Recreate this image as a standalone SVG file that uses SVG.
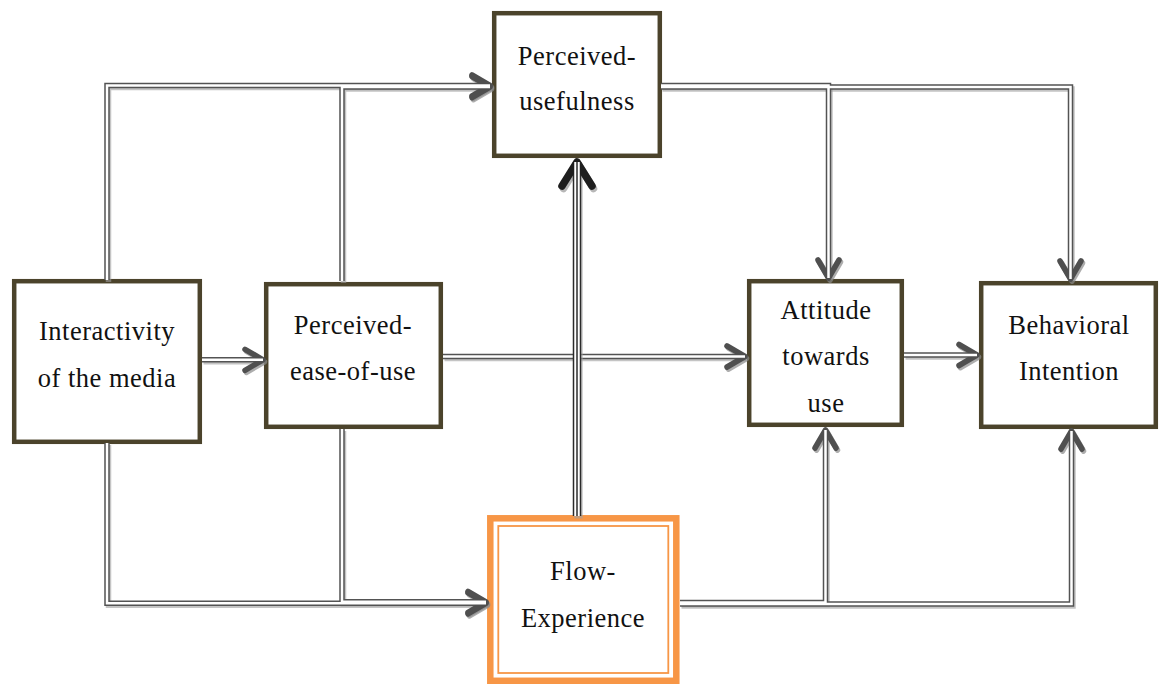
<svg xmlns="http://www.w3.org/2000/svg" xmlns:xlink="http://www.w3.org/1999/xlink" width="1159" height="684" viewBox="0 0 1159 684">
  <style>
    .box{fill:#fff;stroke:#4b432b;stroke-width:4.5}
    .flow-outer{fill:#fff;stroke:#f79646;stroke-width:6.5}
    .flow-inner{fill:none;stroke:#f79646;stroke-width:1.8}
    text{font-family:"Liberation Serif","Times New Roman",serif;font-size:26.5px;letter-spacing:0.5px;fill:#111;text-anchor:middle}
    .route{fill:none;stroke-linejoin:miter}
    .shade{stroke:#9c9c9c;stroke-opacity:.6;stroke-width:5.5;marker-end:url(#chev-shade)}
    .rail{stroke:#535353;stroke-width:5.5;marker-end:url(#chev)}
    .gap{stroke:#fff;stroke-width:2.5;marker-end:none}
    .main-shade{stroke:#a0a0a0;stroke-opacity:.6;stroke-width:8.5;marker-end:url(#chev-dark-shade)}
    .main-rail{stroke:#2b2b2b;stroke-width:8.5;marker-end:url(#chev-dark)}
    .main-gap{stroke:#fff;stroke-width:5.5;marker-end:none}
    .main-core{stroke:#2b2b2b;stroke-width:1.5;marker-end:none}
  </style>
  <defs>
    <!-- open chevron heads -->
    <marker id="chev" markerUnits="userSpaceOnUse" orient="auto" overflow="visible" markerWidth="40" markerHeight="40" refX="0" refY="0">
      <path d="M-18,-10.5 L0,0 L-18,10.5" fill="none" stroke="#4f4f4f" stroke-width="5.5" stroke-linecap="round" stroke-linejoin="round"/>
    </marker>
    <marker id="chev-shade" markerUnits="userSpaceOnUse" orient="auto" overflow="visible" markerWidth="40" markerHeight="40" refX="0" refY="0">
      <path d="M-18,-10.5 L0,0 L-18,10.5" fill="none" stroke="#8a8a8a" stroke-opacity=".7" stroke-width="5.5" stroke-linecap="round" stroke-linejoin="round"/>
    </marker>
    <marker id="chev-dark" markerUnits="userSpaceOnUse" orient="auto" overflow="visible" markerWidth="60" markerHeight="60" refX="0" refY="0">
      <path d="M-24,-15 L0,0 L-24,15" fill="none" stroke="#1e1e1e" stroke-width="7.5" stroke-linecap="round" stroke-linejoin="round"/>
    </marker>
    <marker id="chev-dark-shade" markerUnits="userSpaceOnUse" orient="auto" overflow="visible" markerWidth="60" markerHeight="60" refX="0" refY="0">
      <path d="M-24,-15 L0,0 L-24,15" fill="none" stroke="#999" stroke-opacity=".7" stroke-width="7.5" stroke-linecap="round" stroke-linejoin="round"/>
    </marker>

    <!-- connector centre lines -->
    <path id="c1" d="M107,280 V85.5 H490"/>
    <path id="c2" d="M342,281 V87 H490"/>
    <path id="c3" d="M661,85.5 H828.5 V278"/>
    <path id="c4" d="M661,87 H1070.5 V279"/>
    <path id="c5" d="M202,359.8 H263"/>
    <path id="c6" d="M443,356.5 H745"/>
    <path id="c7" d="M904,355 H977"/>
    <path id="c9" d="M107,443 V603.3 H486"/>
    <path id="c10" d="M342,429 V601.8 H486"/>
    <path id="c11" d="M680,602.5 H825.5 V430"/>
    <path id="c12" d="M680,604 H1071.5 V431"/>
    <path id="c8" d="M577,516 V162"/>
  </defs>

  <!-- nodes -->
  <g id="node-interactivity">
    <rect class="box" x="14.2" y="281.2" width="185.6" height="160.6"/>
    <text x="107" y="340">Interactivity</text>
    <text x="107" y="386.5">of the media</text>
  </g>
  <g id="node-ease">
    <rect class="box" x="266.2" y="284.2" width="174.6" height="142.6"/>
    <text x="353" y="333.5">Perceived-</text>
    <text x="353" y="380">ease-of-use</text>
  </g>
  <g id="node-usefulness">
    <rect class="box" x="494.2" y="13.2" width="165.6" height="142.6"/>
    <text x="577" y="65">Perceived-</text>
    <text x="577" y="110">usefulness</text>
  </g>
  <g id="node-attitude">
    <rect class="box" x="749.2" y="281.2" width="152.6" height="143.6"/>
    <text x="826" y="319">Attitude</text>
    <text x="826" y="365">towards</text>
    <text x="826" y="412">use</text>
  </g>
  <g id="node-intention">
    <rect class="box" x="981.2" y="283.2" width="174.6" height="143.6"/>
    <text x="1069" y="334">Behavioral</text>
    <text x="1069" y="380">Intention</text>
  </g>
  <g id="node-flow">
    <rect class="flow-outer" x="490.3" y="518.3" width="186" height="162.5"/>
    <rect class="flow-inner" x="498.3" y="526" width="170" height="147"/>
    <text x="583" y="580">Flow-</text>
    <text x="583" y="626.5">Experience</text>
  </g>

  <!-- connectors: shade, rails, then the gap that splits each rail into a double line -->
  <g id="connectors" class="route">
    <g class="shade" transform="translate(1.5,2)">
      <use xlink:href="#c1"/><use xlink:href="#c2"/><use xlink:href="#c3"/><use xlink:href="#c4"/>
      <use xlink:href="#c5"/><use xlink:href="#c6"/><use xlink:href="#c7"/><use xlink:href="#c9"/>
      <use xlink:href="#c10"/><use xlink:href="#c11"/><use xlink:href="#c12"/>
    </g>
    <g class="rail">
      <use xlink:href="#c1"/><use xlink:href="#c2"/><use xlink:href="#c3"/><use xlink:href="#c4"/>
      <use xlink:href="#c5"/><use xlink:href="#c6"/><use xlink:href="#c7"/><use xlink:href="#c9"/>
      <use xlink:href="#c10"/><use xlink:href="#c11"/><use xlink:href="#c12"/>
    </g>
    <g class="gap">
      <use xlink:href="#c1"/><use xlink:href="#c2"/><use xlink:href="#c3"/><use xlink:href="#c4"/>
      <use xlink:href="#c5"/><use xlink:href="#c6"/><use xlink:href="#c7"/><use xlink:href="#c9"/>
      <use xlink:href="#c10"/><use xlink:href="#c11"/><use xlink:href="#c12"/>
    </g>
    <!-- Flow-Experience to Perceived-usefulness: heavier triple line -->
    <use class="main-shade" xlink:href="#c8" transform="translate(1.5,2.5)"/>
    <use class="main-rail" xlink:href="#c8"/>
    <use class="main-gap" xlink:href="#c8"/>
    <use class="main-core" xlink:href="#c8"/>
  </g>
</svg>
